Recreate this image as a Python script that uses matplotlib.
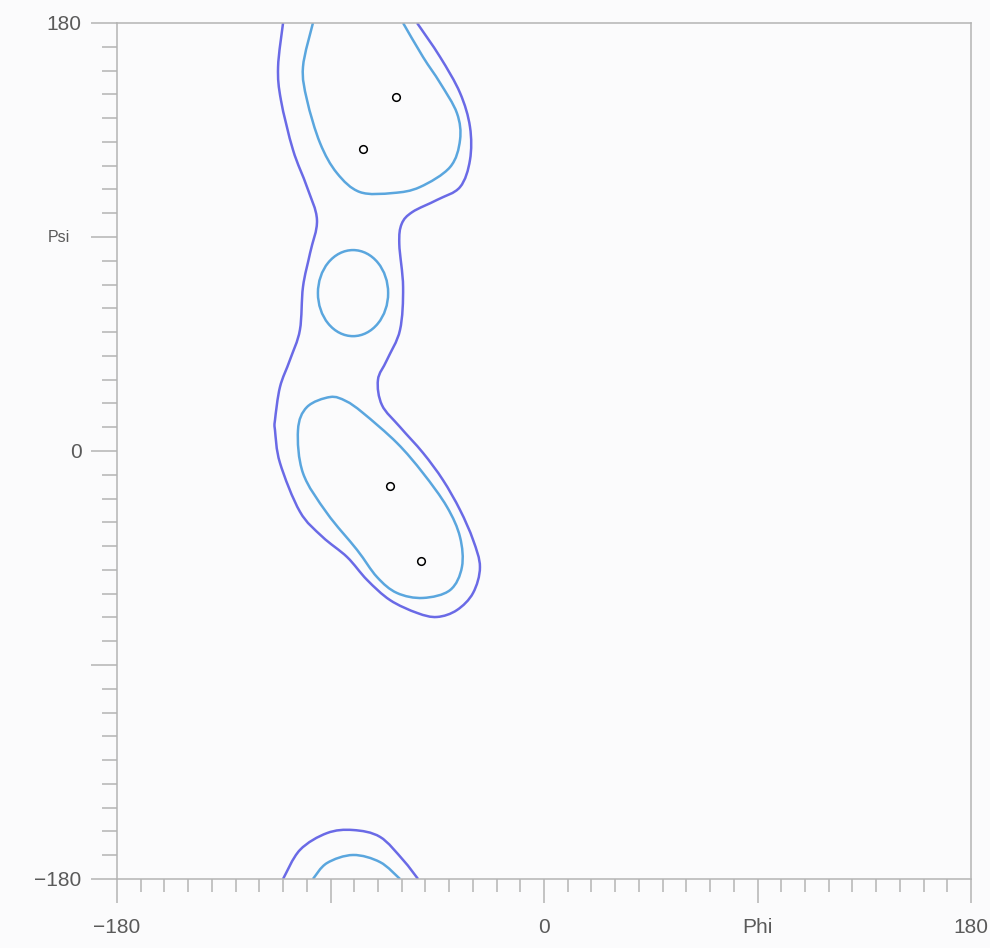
import matplotlib
matplotlib.use("Agg")
import matplotlib.pyplot as plt
import numpy as np
from matplotlib.patches import Ellipse, PathPatch
from matplotlib.path import Path

# ---- data (phi, psi in degrees) ----
outer_phi = [-110.0, -112.1, -110.9, -105.8, -99.9, -95.7, -98.6, -101.6, -102.9, -107.1,
             -111.3, -113.4, -113.4, -111.3, -102.9, -93.5, -83.0, -74.6, -64.9, -53.5,
             -45.1, -36.7, -29.9, -27.0, -29.9, -35.4, -42.6, -51.0, -60.7, -68.3,
             -70.0, -66.2, -60.7, -59.4, -61.0, -60.0, -55.5, -45.1, -35.4, -31.2,
             -31.2, -35.4, -43.8, -53.5]
outer_psi = [180, 161.5, 147.6, 126.6, 111.0, 97.2, 83.3, 69.0, 50.9, 38.3,
             26.9, 13.0, 8.8, -5.0, -25.5, -36.0, -44.6, -54.2, -62.7, -68.1,
             -69.8, -66.9, -59.7, -48.8, -37.4, -24.8, -12.2, -0.8, 10.1, 19.3,
             29.9, 38.3, 50.9, 69.0, 87.0, 95.5, 100.5, 105.6, 111.0, 122.4,
             136.3, 150.6, 165.7, 180]

inner_top_phi = [-97.4, -101.6, -99.9, -94.4, -87.3, -77.6, -63.7, -52.3, -39.6, -35.4,
                 -36.7, -43.8, -51.0, -59.4]
inner_top_psi = [180, 161.5, 147.6, 129.5, 116.9, 108.9, 108.5, 111.0, 119.4, 130.8,
                 142.1, 154.8, 165.7, 180]

inner_mid_center = (-80.5, 66.4)
inner_mid_size = (29.6, 36.2)

inner_low_phi = [-90.2, -99.9, -103.7, -101.6, -91.5, -78.8, -70.4, -62.0, -51.0, -39.6,
                 -34.6, -35.4, -40.9, -51.0, -62.0, -76.3, -83.5]
inner_low_psi = [22.7, 18.5, 8.8, -9.3, -26.1, -41.6, -53.0, -59.7, -61.8, -58.5,
                 -48.8, -36.2, -23.5, -9.3, 3.4, 16.0, 21.0]

outer_bot_phi = [-110.0, -102.9, -91.5, -80.5, -69.1, -59.4, -53.1]
outer_bot_psi = [-180, -167.8, -160.7, -159.4, -162.3, -172.0, -180]
inner_bot_phi = [-97.4, -91.5, -80.5, -69.1, -60.7]
inner_bot_psi = [-180, -173.3, -169.9, -172.9, -180]

res_phi = [-62.4, -76.3, -64.9, -51.8]
res_psi = [148.9, 127.0, -14.7, -46.3]

x_major = [-180, -90, 0, 90, 180]
x_labels = ["\u2212180", "", "0", "Phi", "180"]
y_major = [-180, -90, 0, 90, 180]
y_labels = ["\u2212180", "", "0", "", "180"]

# ---- styling ----
bg = "#fbfbfc"
outer_col = "#6a6ae6"
inner_col = "#5aa6de"
axis_col = "#b4b4b4"
text_col = "#5a5a5a"
LW = 1.8


def smooth_path(xs, ys, closed=False):
    """Catmull-Rom curve through the given vertices, as cubic Bezier path."""
    P = np.column_stack([xs, ys]).astype(float)
    n = len(P)
    if closed:
        idx = lambda i: P[i % n]
        segs = range(n)
    else:
        def idx(i):
            return P[min(max(i, 0), n - 1)]
        segs = range(n - 1)
    verts = [P[0]]
    codes = [Path.MOVETO]
    for i in segs:
        p0, p1, p2, p3 = idx(i - 1), idx(i), idx(i + 1), idx(i + 2)
        c1 = p1 + (p2 - p0) / 6.0
        c2 = p2 - (p3 - p1) / 6.0
        verts += [c1, c2, p2]
        codes += [Path.CURVE4] * 3
    return Path(verts, codes)


plt.rcParams['font.family'] = ['Liberation Sans', 'DejaVu Sans']

fig = plt.figure(figsize=(9.9, 9.48), dpi=100, facecolor=bg)
ax = fig.add_axes([117/990, 69/948, 854/990, 856/948], facecolor=bg)

for xs, ys, col, closed in [
        (outer_phi, outer_psi, outer_col, False),
        (outer_bot_phi, outer_bot_psi, outer_col, False),
        (inner_top_phi, inner_top_psi, inner_col, False),
        (inner_low_phi, inner_low_psi, inner_col, True),
        (inner_bot_phi, inner_bot_psi, inner_col, False)]:
    ax.add_patch(PathPatch(smooth_path(xs, ys, closed), fill=False,
                           edgecolor=col, lw=LW))

ax.add_patch(Ellipse(inner_mid_center, inner_mid_size[0], inner_mid_size[1],
                     fill=False, edgecolor=inner_col, lw=LW))
ax.plot(res_phi, res_psi, ls='none', marker='o', ms=5.5, mfc='white',
        mec='black', mew=1.1)

ax.set_xlim(-180, 180)
ax.set_ylim(-180, 180)

ax.set_xticks(x_major)
ax.set_xticklabels(x_labels)
ax.set_yticks(y_major)
ax.set_yticklabels(y_labels)
ax.set_xticks(range(-170, 180, 10), minor=True)
ax.set_yticks(range(-170, 180, 10), minor=True)

ax.tick_params(axis='x', which='major', length=17, width=1.1, color=axis_col,
               labelsize=15, labelcolor=text_col, pad=11)
ax.tick_params(axis='x', which='minor', length=9.5, width=1.1, color=axis_col)
ax.tick_params(axis='y', which='major', length=18.5, width=1.1, color=axis_col,
               labelsize=15, labelcolor=text_col, pad=7)
ax.tick_params(axis='y', which='minor', length=10.5, width=1.1, color=axis_col)

for s in ax.spines.values():
    s.set_color(axis_col)
    s.set_linewidth(1.1)

ax.annotate("Psi", xy=(0, 90), xycoords=('axes fraction', 'data'),
            xytext=(-47, 0), textcoords='offset pixels', ha='right', va='center',
            fontsize=11.5, color=text_col)

fig.savefig("out.png", dpi=100, facecolor=bg)
